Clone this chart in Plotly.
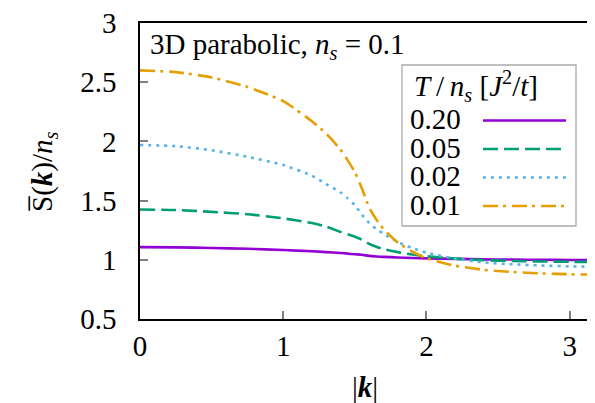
import math
import plotly.graph_objects as go

# ---- data ----
k = [0, 0.25, 0.5, 0.75, 1.0, 1.2, 1.3, 1.4, 1.45, 1.5, 1.55, 1.6, 1.65, 1.7,
     1.8, 1.9, 2.0, 2.2, 2.4, 2.6, 2.8, 3.0, math.pi]
labels = ["0.20", "0.05", "0.02", "0.01"]
s_020 = [1.107, 1.105, 1.10, 1.093, 1.083, 1.072, 1.065, 1.057, 1.052, 1.047, 1.042,
         1.033, 1.028, 1.025, 1.02, 1.015, 1.012, 1.008, 1.004, 1.002, 1.0, 0.998, 0.997]
s_005 = [1.425, 1.42, 1.405, 1.385, 1.35, 1.31, 1.28, 1.235, 1.215, 1.195, 1.17,
         1.135, 1.11, 1.09, 1.065, 1.045, 1.03, 1.01, 0.997, 0.99, 0.986, 0.983, 0.982]
s_002 = [1.97, 1.96, 1.925, 1.87, 1.80, 1.71, 1.64, 1.57, 1.52, 1.46, 1.38,
         1.31, 1.26, 1.22, 1.15, 1.10, 1.06, 1.01, 0.978, 0.962, 0.952, 0.945, 0.942]
s_001 = [2.60, 2.585, 2.54, 2.46, 2.34, 2.17, 2.065, 1.93, 1.84, 1.74, 1.60,
         1.44, 1.34, 1.26, 1.145, 1.07, 1.012, 0.95, 0.915, 0.897, 0.885, 0.878, 0.875]
series = [s_020, s_005, s_002, s_001]
yticks = [0.5, 1, 1.5, 2, 2.5, 3]
ytick_text = ["0.5", "1", "1.5", "2", "2.5", "3"]
xticks = [0, 1, 2, 3]

colors = ["#9400D3", "#009E73", "#56B4E9", "#E69F00"]
dashes = ["solid", "15px,6px", "3px,5px", "15px,5px,3px,6px"]
FONT = "Liberation Serif, Times New Roman, Times, serif"
FS = 29

W, H = 595, 403
ML, MR, MT, MB = 132, 13, 15, 92
PW, PH = W - ML - MR, H - MT - MB

def px(xp):
    return (xp - ML) / PW

def py(yp):
    return (H - MB - yp) / PH

fig = go.Figure()
for lab, ys, c, d in zip(labels, series, colors, dashes):
    fig.add_trace(go.Scatter(x=k, y=ys, mode="lines", name=lab, showlegend=False,
                             line=dict(color=c, width=2.6, dash=d, shape="spline", smoothing=0.6)))

shapes = []
annotations = []
# legend box
shapes.append(dict(type="rect", xref="paper", yref="paper",
                   x0=px(394), x1=px(568), y0=py(218), y1=py(57),
                   line=dict(color="#aaaaaa", width=1.3), fillcolor="white", layer="above"))
annotations.append(dict(xref="paper", yref="paper", x=px(404), y=py(78),
                        xanchor="left", yanchor="middle", showarrow=False,
                        text="<i>T</i>\u2009/\u2009<i>n<sub>s</sub></i> [<i>J</i><sup>2</sup>/<i>t</i>]",
                        font=dict(family=FONT, size=FS, color="black")))
rows = [111, 139.5, 168, 196.5]
for lab, c, d, yr in zip(labels, colors, dashes, rows):
    annotations.append(dict(xref="paper", yref="paper", x=px(400), y=py(yr),
                            xanchor="left", yanchor="middle", showarrow=False, text=lab,
                            font=dict(family=FONT, size=FS, color="black")))
    shapes.append(dict(type="line", xref="paper", yref="paper",
                       x0=px(475), x1=px(558), y0=py(yr + 1.5), y1=py(yr + 1.5),
                       line=dict(color=c, width=2.6, dash=d), layer="above"))

# title inside plot
annotations.append(dict(xref="paper", yref="paper", x=px(140), y=py(38),
                        xanchor="left", yanchor="middle", showarrow=False,
                        text="3D parabolic, <i>n<sub>s</sub></i> = 0.1",
                        font=dict(family=FONT, size=FS, color="black")))
# axis titles
annotations.append(dict(xref="paper", yref="paper", x=px(36), y=py(164),
                        xanchor="center", yanchor="middle", showarrow=False, textangle=-90,
                        text="S\u0305(<b><i>k</i></b>)/<i>n<sub>s</sub></i>",
                        font=dict(family=FONT, size=FS, color="black")))
annotations.append(dict(xref="paper", yref="paper", x=px(357), y=py(379),
                        xanchor="center", yanchor="middle", showarrow=False,
                        text="|<b><i>k</i></b>|",
                        font=dict(family=FONT, size=FS, color="black")))

axis_common = dict(showline=True, linecolor="black", linewidth=1.5, mirror=True,
                   ticks="inside", tickcolor="#808080", ticklen=8, tickwidth=1.5,
                   showgrid=False, zeroline=False, automargin=False,
                   ticklabeloverflow="allow",
                   tickfont=dict(family=FONT, size=FS, color="black"))

fig.update_layout(
    template="none",
    font=dict(family=FONT, size=FS, color="black"),
    width=W, height=H,
    margin=dict(l=ML, r=MR, t=MT, b=MB, pad=0),
    paper_bgcolor="white", plot_bgcolor="white",
    xaxis=dict(range=[0, math.pi], tickvals=xticks, ticklabelstandoff=0, **axis_common),
    yaxis=dict(range=[0.5, 3], tickvals=yticks, ticktext=ytick_text, ticklabelstandoff=16,
               **axis_common),
    shapes=shapes, annotations=annotations, showlegend=False,
)

fig.write_html("out.html")
